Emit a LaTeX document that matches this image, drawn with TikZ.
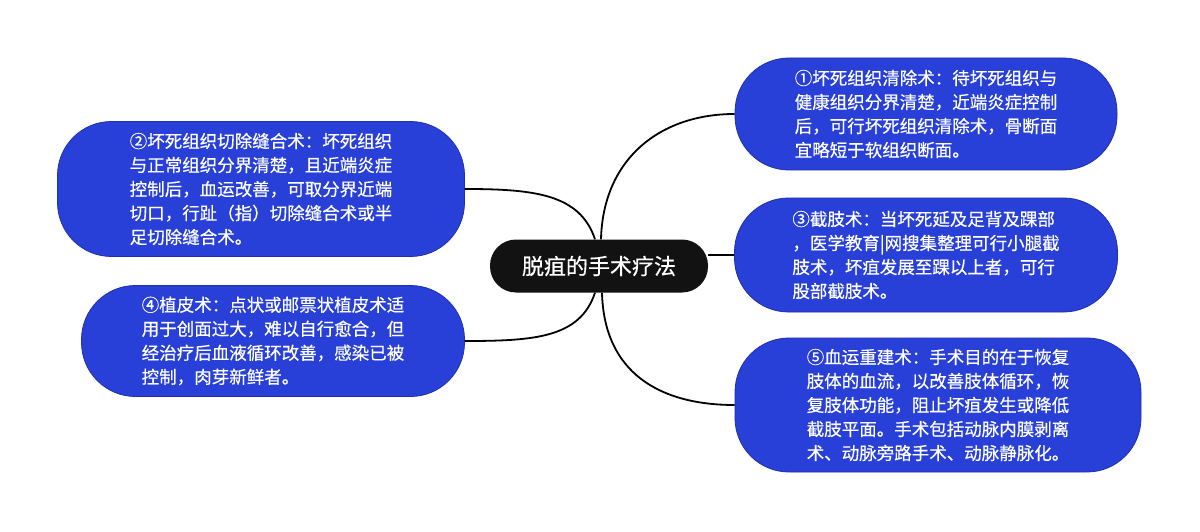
\documentclass[tikz,border=0pt]{standalone}
\usepackage{fontspec}
\setmainfont{Noto Sans CJK SC}[FakeBold=0.5]

\definecolor{leafblue}{RGB}{40,64,216}
\definecolor{leafedge}{RGB}{30,48,170}

\tikzset{
  topic/.style={fill=black!93, text=white, rounded corners=26pt,
    minimum width=218pt, minimum height=53pt, inner sep=0pt,
    font=\fontsize{22}{26}\selectfont},
  leaf/.style={fill=leafblue, draw=leafedge, line width=0.8pt, text=white,
    align=left, inner sep=0pt, rounded corners=54pt,
    font=\fontsize{17.5}{24}\selectfont},
  link/.style={line width=1.8pt}
}

\begin{document}
\begin{tikzpicture}[x=1pt,y=-1pt]
  \useasboundingbox[fill=white] (0,0) rectangle (1200,532);

  % centre
  \node[topic] (root) at (599,266) {脱疽的手术疗法};

  % right side
  \node[leaf, minimum width=382pt, minimum height=112pt] (n1) at (926,114)
    {①坏死组织清除术：待坏死组织与\\健康组织分界清楚，近端炎症控制\\后，可行坏死组织清除术，骨断面\\宜略短于软组织断面。};
  \node[leaf, minimum width=383pt, minimum height=114pt] (n3) at (926,255)
    {③截肢术：当坏死延及足背及踝部\\，医学教育|网搜集整理可行小腿截\\肢术，坏疽发展至踝以上者，可行\\股部截肢术。};
  \node[leaf, minimum width=406pt, minimum height=134pt] (n5) at (938,405)
    {⑤血运重建术：手术目的在于恢复\\肢体的血流，以改善肢体循环，恢\\复肢体功能，阻止坏疽发生或降低\\截肢平面。手术包括动脉内膜剥离\\术、动脉旁路手术、动脉静脉化。};

  % left side
  \node[leaf, minimum width=407pt, minimum height=135pt] (n2) at (261,189)
    {②坏死组织切除缝合术：坏死组织\\与正常组织分界清楚，且近端炎症\\控制后，血运改善，可取分界近端\\切口，行趾（指）切除缝合术或半\\足切除缝合术。};
  \node[leaf, minimum width=383pt, minimum height=111pt] (n4) at (273,341)
    {④植皮术：点状或邮票状植皮术适\\用于创面过大，难以自行愈合，但\\经治疗后血液循环改善，感染已被\\控制，肉芽新鲜者。};

  % connectors
  \draw[link] ([xshift=2pt]root.north) .. controls +(2,-80) and +(-75,0) .. (n1.west);
  \draw[link] (root.east |- n3.west) -- (n3.west);
  \draw[link] ([xshift=3pt]root.south) .. controls +(2,80) and +(-75,0) .. (n5.west);
  \draw[link] ([xshift=-4pt]root.north) .. controls +(-15,-45) and +(70,0) .. (n2.east);
  \draw[link] ([xshift=-4pt]root.south) .. controls +(-15,45) and +(70,0) .. (n4.east);
\end{tikzpicture}
\end{document}
